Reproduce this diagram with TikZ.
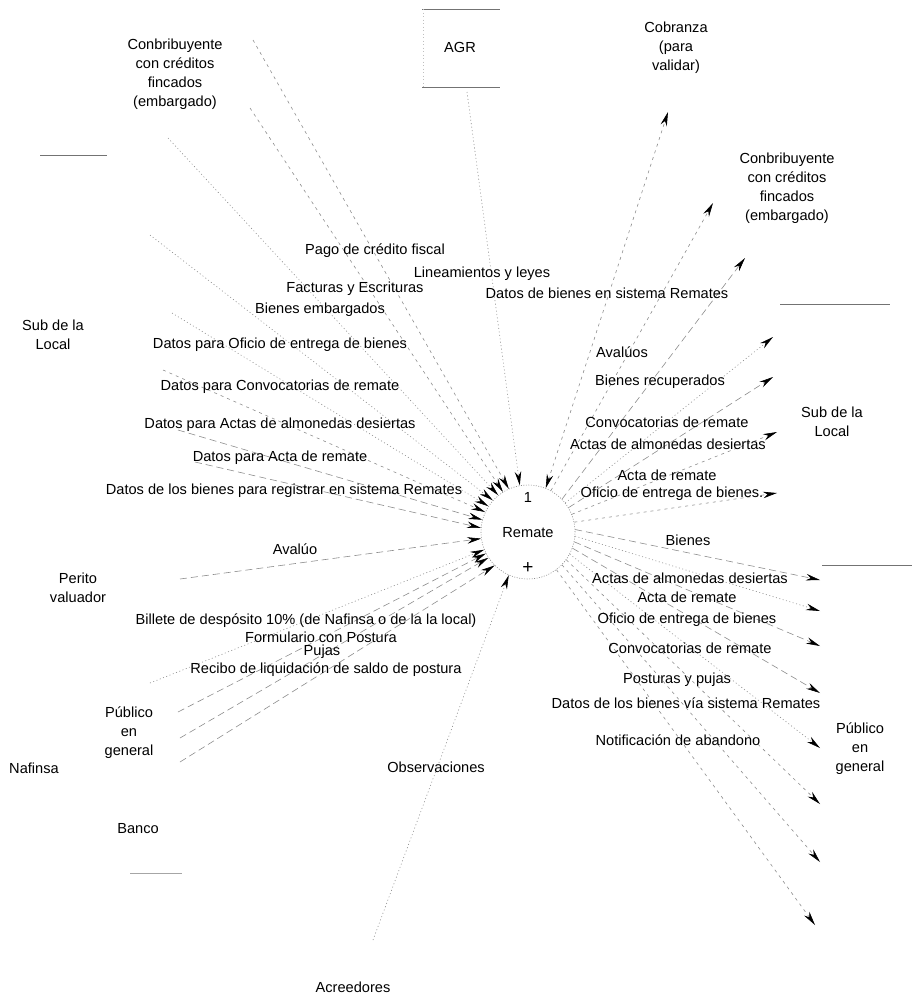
\documentclass[tikz,border=0pt]{standalone}
\usepackage{fontspec}
\setmainfont{Liberation Sans}
\usetikzlibrary{arrows.meta}
\begin{document}
\begin{tikzpicture}[x=1pt,y=-1pt,
  lbl/.style={font=\fontsize{14.6}{19}\selectfont, text=black, inner sep=0pt},
  ent/.style={lbl, align=center},
  flow/.style={draw=black!45, line width=0.6pt, -{Stealth[length=14pt,width=6.5pt,color=black]}},
  bflow/.style={draw=black!45, line width=0.6pt, {Stealth[length=14pt,width=6.5pt,color=black]}-{Stealth[length=14pt,width=6.5pt,color=black]}},
  dsh/.style={dash pattern=on 3pt off 4pt},
  dtt/.style={dash pattern=on 1pt off 2.5pt},
  ldsh/.style={dash pattern=on 7pt off 4pt},
  store/.style={draw=black!55, line width=0.7pt},
  proc/.style={circle, minimum size=94pt, draw=black!45, line width=0.6pt, dash pattern=on 1pt off 1.5pt, inner sep=0pt}
]
\useasboundingbox (0,0) rectangle (912,999);

% central process
\node[proc] (R) at (528,532) {};
\node[lbl] (rnum) at (528,497) {1};
\node[lbl] (rname) at (528,533) {Remate};
\node[lbl, font=\fontsize{19}{19}\selectfont] (rplus) at (528,568) {+};

% external entities
\node[ent] (agr) at (460,47) {AGR};
\draw[store] (422,9) -- (500,9);
\draw[store] (422,87) -- (500,87);
\draw[draw=black!25, line width=0.5pt, dtt] (423,9) -- (423,87);
\node[ent] (conL) at (175,74) {Conbribuyente\\con créditos\\fincados\\(embargado)};
\node[ent] (subL) at (53,335) {Sub de la\\Local};
\node[ent] (perito) at (78,588) {Perito\\valuador};
\node[ent] (pubL) at (129,733) {Público\\en\\general};
\node[ent] (nafinsa) at (34,768) {Nafinsa};
\node[ent] (banco) at (138,829) {Banco};
\node[ent] (obs) at (436,767) {Observaciones};
\node[ent] (acre) at (353,987) {Acreedores};
\node[ent] (cob) at (676,48) {Cobranza\\(para\\validar)};
\node[ent] (conR) at (787,188) {Conbribuyente\\con créditos\\fincados\\(embargado)};
\node[ent] (subR) at (832,422) {Sub de la\\Local};
\node[ent] (pubR) at (860,749) {Público\\en\\general};

% store / box fragments
\draw[store] (40,155) -- (107,155);
\draw[store] (780,304) -- (890,304);
\draw[store] (822,565) -- (912,565);
\draw[store, draw=black!35] (130,873) -- (182,873);

% free ends of connectors
\coordinate (agrS) at (467,92);
\coordinate (cobT) at (668,112);
\coordinate (c1) at (253,40);
\coordinate (c2) at (250,108);
\coordinate (c3) at (168,138);
\coordinate (s1) at (150,235);
\coordinate (s2) at (172,313);
\coordinate (s3) at (163,370);
\coordinate (s4) at (178,430);
\coordinate (s5) at (195,462);
\coordinate (p1) at (180,579);
\coordinate (n1) at (150,683);
\coordinate (u1) at (178,712);
\coordinate (u2) at (180,738);
\coordinate (u3) at (180,762);
\coordinate (a1) at (373,940);
\coordinate (cr1) at (713,203);
\coordinate (cr2) at (745,258);
\coordinate (sr1) at (773,337);
\coordinate (sr2) at (773,377);
\coordinate (sr3) at (777,432);
\coordinate (sr4) at (777,493);
\coordinate (pg1) at (820,580);
\coordinate (pg2) at (820,611);
\coordinate (pg3) at (820,646);
\coordinate (pg4) at (820,693);
\coordinate (pg5) at (820,748);
\coordinate (pg6) at (820,804);
\coordinate (pg7) at (820,862);
\coordinate (pg8) at (815,925);

% inbound flows
\draw[flow, dtt] (agrS) -- (R.100);
\draw[bflow, dsh] (R.68) -- (cobT);
\draw[flow, dsh] (c1) -- (R.114);
\draw[flow, dsh] (c2) -- (R.122);
\draw[flow, dtt] (c3) -- (R.129);
\draw[flow, dtt] (s1) -- (R.138);
\draw[flow, dtt] (s2) -- (R.147);
\draw[flow, dsh] (s3) -- (R.155);
\draw[flow, ldsh] (s4) -- (R.165);
\draw[flow, ldsh] (s5) -- (R.175);
\draw[flow, ldsh] (p1) -- (R.188);
\draw[flow, dtt] (n1) -- (R.202);
\draw[flow, ldsh] (u1) -- (R.207);
\draw[flow, ldsh] (u2) -- (R.213);
\draw[flow, ldsh] (u3) -- (R.225);
\draw[flow, dtt] (a1) -- (R.246);

% outbound flows
\draw[flow, dsh] (R.61) -- (cr1);
\draw[flow, ldsh] (R.44) -- (cr2);
\draw[flow, dtt] (R.38) -- (sr1);
\draw[flow, ldsh] (R.31) -- (sr2);
\draw[flow, dsh] (R.22) -- (sr3);
\draw[flow, dsh] (R.12) -- (sr4);
\draw[flow, ldsh] (R.3) -- (pg1);
\draw[flow, dtt] (R.-5) -- (pg2);
\draw[flow, ldsh] (R.-12) -- (pg3);
\draw[flow, ldsh] (R.-20) -- (pg4);
\draw[flow, dtt] (R.-28) -- (pg5);
\draw[flow, dsh] (R.-36) -- (pg6);
\draw[flow, dsh] (R.-44) -- (pg7);
\draw[flow, dsh] (R.-53) -- (pg8);

% flow labels (left)
\node[lbl] (l1) at (375,251) {Pago de crédito fiscal};
\node[lbl] (l2) at (482,274) {Lineamientos y leyes};
\node[lbl] (l3) at (355,289) {Facturas y Escrituras};
\node[lbl] (l4) at (607,293) {Datos de bienes en sistema Remates};
\node[lbl] (l5) at (320,310) {Bienes embargados};
\node[lbl] (l6) at (280,345) {Datos para Oficio de entrega de bienes};
\node[lbl] (l7) at (280,387) {Datos para Convocatorias de remate};
\node[lbl] (l8) at (280,425) {Datos para Actas de almonedas desiertas};
\node[lbl] (l9) at (280,458) {Datos para Acta de remate};
\node[lbl] (l10) at (284,491) {Datos de los bienes para registrar en sistema Remates};
\node[lbl] (l11) at (295,549) {Avalúo};
\node[lbl] (l12) at (306,621) {Billete de despósito 10\% (de Nafinsa o de la la local)};
\node[lbl] (l13) at (321,637) {Formulario con Postura};
\node[lbl] (l14) at (322,652) {Pujas};
\node[lbl] (l15) at (326,670) {Recibo de liquidación de saldo de postura};

% flow labels (right)
\node[lbl] (r1) at (622,352) {Avalúos};
\node[lbl] (r2) at (660,382) {Bienes recuperados};
\node[lbl] (r3) at (667,422) {Convocatorias de remate};
\node[lbl] (r4) at (668,444) {Actas de almonedas desiertas};
\node[lbl] (r5) at (667,475) {Acta de remate};
\node[lbl] (r6) at (672,494) {Oficio de entrega de bienes.};
\node[lbl] (r7) at (688,540) {Bienes};
\node[lbl] (r8) at (690,578) {Actas de almonedas desiertas};
\node[lbl] (r9) at (687,597) {Acta de remate};
\node[lbl] (r10) at (687,620) {Oficio de entrega de bienes};
\node[lbl] (r11) at (690,648) {Convocatorias de remate};
\node[lbl] (r12) at (677,680) {Posturas y pujas};
\node[lbl] (r13) at (686,703) {Datos de los bienes vía sistema Remates};
\node[lbl] (r14) at (678,740) {Notificación de abandono};
\end{tikzpicture}
\end{document}
